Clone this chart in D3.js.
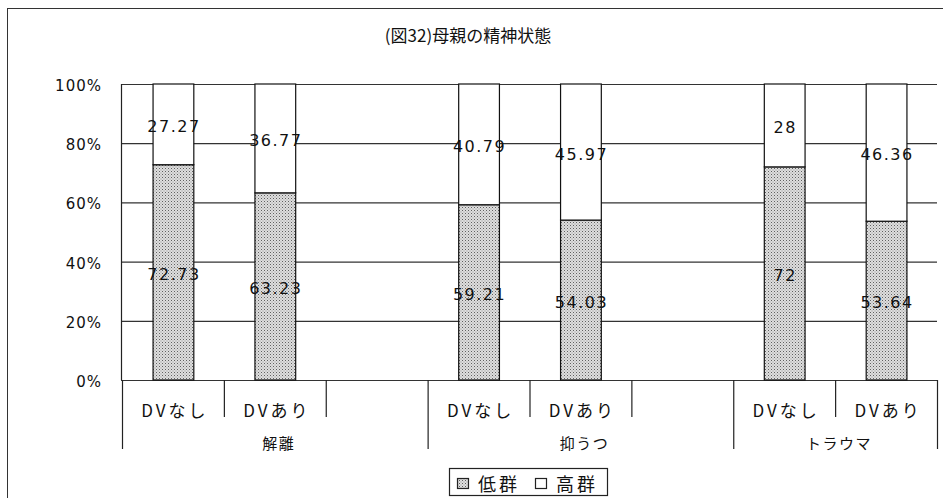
<!DOCTYPE html>
<html><head><meta charset="utf-8">
<script src="https://cdn.jsdelivr.net/npm/d3@7"></script>
<style>
html,body{margin:0;padding:0;background:#fff;}
svg{display:block;}
</style></head>
<body>
<svg id="chart" width="943" height="498"></svg>
<script>
const title = "(図32)母親の精神状態";
const categories = ["DVなし","DVあり","","DVなし","DVあり","","DVなし","DVあり"];
const groups = ["解離","抑うつ","トラウマ"];
const groupSpans = [3,3,2];
const lowValues  = [72.73,63.23,null,59.21,54.03,null,72,53.64];
const highValues = [27.27,36.77,null,40.79,45.97,null,28,46.36];
const lowLabels  = ["72.73","63.23","","59.21","54.03","","72","53.64"];
const highLabels = ["27.27","36.77","","40.79","45.97","","28","46.36"];
const yTicks = [0,20,40,60,80,100];
const seriesNames = ["低群","高群"];

const svg = d3.select("#chart");
const W = 943, H = 498;
const FONT = "'Noto Sans CJK JP','DejaVu Sans',sans-serif";
const NUMFONT = "'DejaVu Sans','Noto Sans CJK JP',sans-serif";

// stipple pattern
const defs = svg.append("defs");
const pat = defs.append("pattern").attr("id","stip").attr("patternUnits","userSpaceOnUse")
  .attr("width",3).attr("height",3);
pat.append("rect").attr("width",3).attr("height",3).attr("fill","#dedede");
pat.append("rect").attr("x",0).attr("y",0).attr("width",1).attr("height",1).attr("fill","#606060");
pat.append("rect").attr("x",1.5).attr("y",1.5).attr("width",1).attr("height",1).attr("fill","#959595");

// outer frame
svg.append("rect").attr("x",7.5).attr("y",8.5).attr("width",W).attr("height",H)
  .attr("fill","none").attr("stroke","#333").attr("stroke-width",1);

// title
svg.append("text").attr("x",468).attr("y",34).attr("text-anchor","middle")
  .attr("dominant-baseline","central").attr("font-family",FONT).attr("font-size",17)
  .attr("fill","#111").text(title);

const x = d3.scaleBand().domain(d3.range(categories.length)).range([122,937]).paddingInner(0).paddingOuter(0);
const y = d3.scaleLinear().domain([0,100]).range([380,84]);
const bw = x.bandwidth()*0.4;

// gridlines
svg.append("g").selectAll("line").data(yTicks).join("line")
  .attr("x1",121).attr("x2",937).attr("y1",d=>y(d)+0.5).attr("y2",d=>y(d)+0.5)
  .attr("stroke","#333").attr("stroke-width",1.2);

// y axis line
svg.append("line").attr("x1",121.5).attr("x2",121.5).attr("y1",y(100)).attr("y2",y(0))
  .attr("stroke","#222").attr("stroke-width",1.2);

// y labels
svg.append("g").selectAll("text").data(yTicks).join("text")
  .attr("x",102).attr("y",d=>y(d)+2).attr("text-anchor","end").attr("dominant-baseline","central")
  .attr("font-family",NUMFONT).attr("font-size",15).attr("letter-spacing","1px").attr("fill","#111")
  .text(d=>d+"%");

// bars
const idx = d3.range(categories.length).filter(i=>lowValues[i]!=null);
const bars = svg.append("g");
bars.selectAll("rect.low").data(idx).join("rect").attr("class","low")
  .attr("x",i=>x(i)+(x.bandwidth()-bw)/2+0.5).attr("width",bw)
  .attr("y",i=>y(lowValues[i])).attr("height",i=>y(0)-y(lowValues[i]))
  .attr("fill","url(#stip)").attr("stroke","#111").attr("stroke-width",1.2);
bars.selectAll("rect.high").data(idx).join("rect").attr("class","high")
  .attr("x",i=>x(i)+(x.bandwidth()-bw)/2+0.5).attr("width",bw)
  .attr("y",i=>y(lowValues[i]+highValues[i])).attr("height",i=>y(lowValues[i])-y(lowValues[i]+highValues[i]))
  .attr("fill","#fff").attr("stroke","#111").attr("stroke-width",1.2);

// data labels
const lab = svg.append("g").attr("font-family",NUMFONT).attr("font-size",16).attr("fill","#111")
  .attr("text-anchor","middle").attr("dominant-baseline","central").attr("letter-spacing","1.5px");
lab.selectAll("text.l").data(idx).join("text").attr("class","l")
  .attr("x",i=>x(i)+x.bandwidth()/2+1).attr("y",i=>y(lowValues[i]/2)+2).text(i=>lowLabels[i]);
lab.selectAll("text.h").data(idx).join("text").attr("class","h")
  .attr("x",i=>x(i)+x.bandwidth()/2+1).attr("y",i=>y(lowValues[i]+highValues[i]/2)+2).text(i=>highLabels[i]);

// category axis
const bounds = [0];
groupSpans.forEach(s=>bounds.push(bounds[bounds.length-1]+s));
const xpos = i => i<categories.length ? x(i) : x.range()[1];
const tickIdx = d3.range(categories.length+1);
svg.append("g").selectAll("line").data(tickIdx).join("line")
  .attr("x1",i=>xpos(i)+0.5).attr("x2",i=>xpos(i)+0.5)
  .attr("y1",380).attr("y2",i=>bounds.includes(i)?449:417)
  .attr("stroke","#222").attr("stroke-width",1.2);

svg.append("g").selectAll("text").data(d3.range(categories.length)).join("text")
  .attr("x",i=>x(i)+x.bandwidth()/2+2).attr("y",409).attr("text-anchor","middle")
  .attr("dominant-baseline","central").attr("font-family",FONT).attr("font-size",17)
  .attr("letter-spacing","3px").attr("fill","#111").text(i=>categories[i]);

svg.append("g").selectAll("text").data(groups).join("text")
  .attr("x",(g,j)=>(xpos(bounds[j])+xpos(bounds[j+1]))/2+4).attr("y",442).attr("text-anchor","middle")
  .attr("dominant-baseline","central").attr("font-family",FONT).attr("font-size",15)
  .attr("letter-spacing","1.5px").attr("fill","#111").text(g=>g);

// legend
const lg = svg.append("g");
lg.append("rect").attr("x",449.5).attr("y",468.5).attr("width",158).attr("height",27)
  .attr("fill","#fff").attr("stroke","#222").attr("stroke-width",1.2);
const fills = ["url(#stip)","#fff"];
const lx = [457, 535];
seriesNames.forEach((n,k)=>{
  lg.append("rect").attr("x",lx[k]+0.5).attr("y",478.5).attr("width",11).attr("height",10)
    .attr("fill",fills[k]).attr("stroke","#222").attr("stroke-width",1.2);
  lg.append("text").attr("x",lx[k]+21).attr("y",483).attr("dominant-baseline","central")
    .attr("font-family",FONT).attr("font-size",18).attr("letter-spacing","3px").attr("fill","#111").text(n);
});
</script>
</body></html>
